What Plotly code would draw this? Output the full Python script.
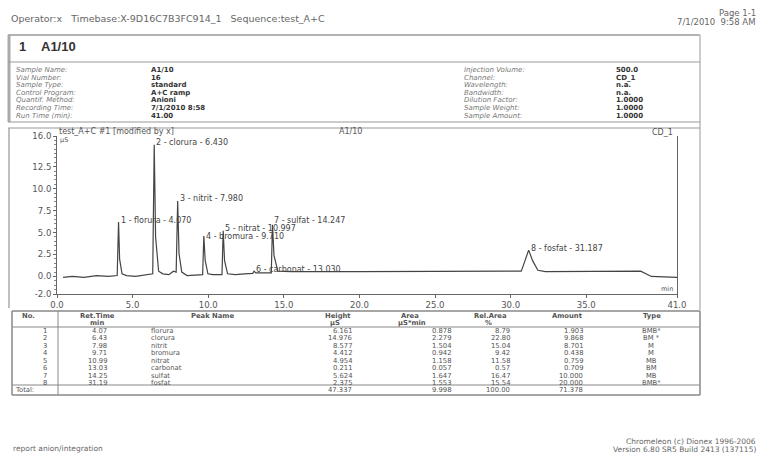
import plotly.graph_objects as go

# ---------------- data ----------------
trace_time = [0.4, 1.0, 1.8, 2.6, 3.4, 3.98, 4.07, 4.14, 4.30, 4.6, 5.2, 5.9, 6.33, 6.43, 6.52, 6.72,
              7.0, 7.4, 7.70, 7.88, 7.98, 8.07, 8.25, 8.6, 9.2, 9.63, 9.71, 9.80, 9.98, 10.3, 10.6,
              10.91, 10.99, 11.08, 11.28, 11.8, 12.4, 12.95, 13.03, 13.15, 13.7, 14.17, 14.25, 14.35,
              14.6, 15.5, 20.0, 25.0, 30.0, 30.7, 30.95, 31.19, 31.45, 31.8, 32.3, 35.0, 38.6, 39.3, 41.0]
trace_signal = [-0.1, 0.0, -0.1, 0.1, 0.0, 0.1, 6.2, 2.0, 0.3, 0.1, 0.0, 0.2, 0.3, 15.0, 4.5, 0.6,
                0.3, 0.2, 0.6, 0.5, 8.6, 2.6, 0.5, 0.1, 0.2, 0.2, 4.6, 1.8, 0.3, 0.2, 0.2,
                0.2, 5.2, 1.8, 0.3, 0.2, 0.3, 0.35, 0.6, 0.4, 0.4, 0.4, 5.9, 2.4,
                0.6, 0.55, 0.55, 0.55, 0.6, 0.6, 1.8, 3.0, 1.8, 0.7, 0.55, 0.6, 0.6, 0.0, -0.1]

peak_no = [1, 2, 3, 4, 5, 6, 7, 8]
peak_names = ["florura", "clorura", "nitrit", "bromura", "nitrat", "carbonat", "sulfat", "fosfat"]
peak_rt_label = ["4.070", "6.430", "7.980", "9.710", "10.997", "13.030", "14.247", "31.187"]
peak_rt = [4.07, 6.43, 7.98, 9.71, 10.997, 13.03, 14.247, 31.187]
peak_top = [6.2, 15.0, 8.6, 4.6, 5.2, 0.6, 5.9, 3.0]

tbl_rt = ["4.07", "6.43", "7.98", "9.71", "10.99", "13.03", "14.25", "31.19"]
tbl_height = ["6.161", "14.976", "8.577", "4.412", "4.954", "0.211", "5.624", "2.375"]
tbl_area = ["0.878", "2.279", "1.504", "0.942", "1.158", "0.057", "1.647", "1.553"]
tbl_rel = ["8.79", "22.80", "15.04", "9.42", "11.58", "0.57", "16.47", "15.54"]
tbl_amount = ["1.903", "9.868", "8.701", "0.438", "0.759", "0.709", "10.000", "20.000"]
tbl_type = ["BMB*", "BM *", "M", "M", "MB", "BM", "MB", "BMB*"]
tbl_total = ["47.337", "9.998", "100.00", "71.378"]

x_tickvals = [0, 5, 10, 15, 20, 25, 30, 35, 41]
x_ticktext = ["0.0", "5.0", "10.0", "15.0", "20.0", "25.0", "30.0", "35.0", "41.0"]
y_tickvals = [-2, 0, 2.5, 5, 7.5, 10, 12.5, 16]
y_ticktext = ["-2.0", "0.0", "2.5", "5.0", "7.5", "10.0", "12.5", "16.0"]

info_left_labels = ["Sample Name:", "Vial Number:", "Sample Type:", "Control Program:",
                    "Quantif. Method:", "Recording Time:", "Run Time (min):"]
info_left_values = ["A1/10", "16", "standard", "A+C ramp", "Anioni", "7/1/2010 8:58", "41.00"]
info_right_labels = ["Injection Volume:", "Channel:", "Wavelength:", "Bandwidth:",
                     "Dilution Factor:", "Sample Weight:", "Sample Amount:"]
info_right_values = ["500.0", "CD_1", "n.a.", "n.a.", "1.0000", "1.0000", "1.0000"]

# ---------------- layout helpers (page pixel coordinates) ----------------
W, H = 760, 455
PL, PR, PT, PB = 57, 677, 136, 294
FONT = "DejaVu Sans, Verdana, sans-serif"
FONT2 = "Liberation Sans, Arial, sans-serif"
GRAY = "#555"
LABEL_SHIFT = [2, 2, 2, 0, 2, 2, 4, 2]   # small vertical nudges (px) for the peak labels


def px(x):
    return (x - PL) / (PR - PL)


def py(y):
    return (PB - y) / (PB - PT)


annotations = []
shapes = []


def text(x, y, s, size=6.8, color=GRAY, anchor="left", bold=False, italic=False, family=FONT):
    if bold:
        s = "<b>" + s + "</b>"
    if italic:
        s = "<i>" + s + "</i>"
    annotations.append(dict(x=px(x), y=py(y), xref="paper", yref="paper", text=s,
                            showarrow=False, xanchor=anchor, yanchor="middle", borderpad=0,
                            font=dict(family=family, size=size, color=color)))


def line(x0, y0, x1, y1, color="#888", width=1):
    shapes.append(dict(type="line", xref="paper", yref="paper", x0=px(x0), y0=py(y0),
                       x1=px(x1), y1=py(y1), line=dict(color=color, width=width)))


# ---------------- figure ----------------
fig = go.Figure()
fig.add_trace(go.Scatter(x=trace_time, y=trace_signal, mode="lines",
                         line=dict(color="#444", width=1.2), hoverinfo="skip", showlegend=False))

# peak labels
for n, name, rtl, rt, top, sh in zip(peak_no, peak_names, peak_rt_label, peak_rt, peak_top, LABEL_SHIFT):
    annotations.append(dict(x=rt, y=top, xref="x", yref="y", text=f"{n} - {name} - {rtl}",
                            showarrow=False, xanchor="left", yanchor="middle", yshift=sh, xshift=1,
                            borderpad=0, font=dict(family=FONT, size=8, color="#444")))

# page header
text(10, 18, "Operator:x   Timebase:X-9D16C7B3FC914_1   Sequence:test_A+C", size=9.5, color="#666")
text(757, 13, "Page 1-1", size=8.5, color="#666", anchor="right")
text(757, 22, "7/1/2010  9:58 AM", size=8.5, color="#666", anchor="right")

# title box
text(18, 46, "1", size=13, color="#333", bold=True, family=FONT2)
text(40, 46, "A1/10", size=13, color="#333", bold=True, family=FONT2)
line(8, 35, 700, 35, "#999", 1.5)
line(9, 35, 9, 122, "#aaa", 3)
line(700, 35, 700, 310, "#bbb", 1.5)

# sample info box
line(8, 62, 700, 62, "#999", 1.2)
line(8, 122, 700, 122, "#999", 1.2)
for i in range(7):
    yy = 70 + 7.6 * i
    text(15, yy, info_left_labels[i], size=7, color="#777", italic=True)
    text(150, yy, info_left_values[i], size=7, color="#333", bold=True)
    text(463, yy, info_right_labels[i], size=7, color="#777", italic=True)
    text(615, yy, info_right_values[i], size=7, color="#333", bold=True)

# chart frame and titles
line(8, 128, 700, 128, "#999", 1.2)
line(9, 128, 9, 308, "#aaa", 1.5)
text(58, 131, "test_A+C #1 [modified by x]", size=8, color="#555")
text(350, 131, "A1/10", size=8, color="#555", anchor="center")
text(674, 132, "CD_1", size=8, color="#555", anchor="right")
text(59, 140, "µS", size=6.5, color="#555")
text(674, 289, "min", size=6.5, color="#555", anchor="right")

# results table
TT, TB = 311, 395
line(12, TT, 700, TT, "#888", 1.5)
line(12, TB, 700, TB, "#888", 1.5)
line(12, TT, 12, TB, "#888", 1.5)
line(700, TT, 700, TB, "#888", 1.5)
line(58, TT, 58, TB, "#888", 1)
line(12, 327, 700, 327, "#888", 1)
line(12, 385, 700, 385, "#888", 1.2)

HY1, HY2 = 315.5, 322.5
text(28, HY1, "No.", bold=True, anchor="center")
text(97, HY1, "Ret.Time", bold=True, anchor="center")
text(97, HY2, "min", bold=True, anchor="center")
text(212, HY1, "Peak Name", bold=True, anchor="center")
text(338, HY1, "Height", bold=True, anchor="center")
text(335, HY2, "µS", bold=True, anchor="center")
text(410, HY1, "Area", bold=True, anchor="center")
text(412, HY2, "µS*min", bold=True, anchor="center")
text(490, HY1, "Rel.Area", bold=True, anchor="center")
text(488, HY2, "%", bold=True, anchor="center")
text(567, HY1, "Amount", bold=True, anchor="center")
text(652, HY1, "Type", bold=True, anchor="center")

for i in range(8):
    yy = 330.5 + 7.5 * i
    text(48, yy, str(peak_no[i]), anchor="right")
    text(108, yy, tbl_rt[i], anchor="right")
    text(150, yy, peak_names[i])
    text(353, yy, tbl_height[i], anchor="right")
    text(452, yy, tbl_area[i], anchor="right")
    text(511, yy, tbl_rel[i], anchor="right")
    text(584, yy, tbl_amount[i], anchor="right")
    text(651, yy, tbl_type[i], anchor="center")

text(14, 390, "Total:")
text(353, 390, tbl_total[0], anchor="right")
text(452, 390, tbl_total[1], anchor="right")
text(511, 390, tbl_total[2], anchor="right")
text(584, 390, tbl_total[3], anchor="right")

# footer
text(12, 448, "report anion/integration", size=7.5, color="#666")
text(757, 441, "Chromeleon (c) Dionex 1996-2006", size=7.5, color="#666", anchor="right")
text(757, 449, "Version 6.80 SR5 Build 2413 (137115)", size=7.5, color="#666", anchor="right")

fig.update_layout(
    width=W, height=H,
    margin=dict(l=PL, r=W - PR, t=PT, b=H - PB, pad=0),
    paper_bgcolor="white", plot_bgcolor="white",
    showlegend=False,
    annotations=annotations, shapes=shapes,
    xaxis=dict(range=[0, 41], tickvals=x_tickvals, ticktext=x_ticktext, showgrid=False,
               zeroline=False, showline=True, linecolor="#666", linewidth=1,
               ticks="outside", ticklen=3, tickcolor="#666",
               tickfont=dict(family=FONT, size=8.5, color=GRAY)),
    yaxis=dict(range=[-2, 16], tickvals=y_tickvals, ticktext=y_ticktext, showgrid=False,
               zeroline=False, showline=True, mirror=True, linecolor="#666", linewidth=1,
               ticks="outside", ticklen=3, tickcolor="#666",
               minor=dict(ticks="outside", ticklen=2, tickmode="linear", tick0=0, dtick=0.5,
                          tickcolor="#888"),
               tickfont=dict(family=FONT, size=8.5, color=GRAY)),
)

fig.write_html("out.html", config={"displayModeBar": False},
               post_script="document.body.style.margin='0px';document.body.style.overflow='hidden';")
